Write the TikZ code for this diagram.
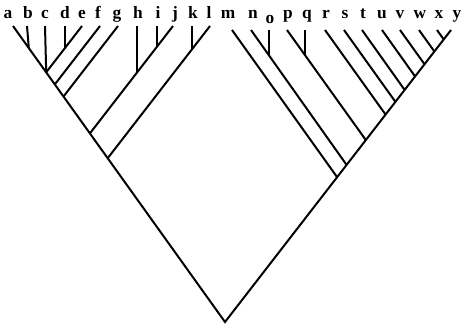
\documentclass[tikz,border=0pt]{standalone}
\usepackage{fontspec}
\setmainfont{Liberation Serif}
\usetikzlibrary{calc}

\begin{document}
\begin{tikzpicture}[x=0.75pt,y=-0.75pt,line width=1.5pt,line join=miter,
  leaf/.style={font=\fontsize{13}{15}\selectfont\bfseries,anchor=base,inner sep=0pt}]
\useasboundingbox (0,0) rectangle (464,330);
\foreach \n/\x in {a/8,b/28,c/45,d/65,e/82,f/98,g/117,h/138,i/158,j/175,k/193,l/209,
  m/228,n/253,p/288,q/307,r/326,s/345,t/363,u/382,v/400,w/420,x/439,y/457}
  \node[leaf] (\n) at (\x,18) {\n};
\node[leaf] (o) at (270,23) {o};
\foreach \n/\x in {a/13,b/27,c/45,d/65,e/82,f/100,g/118,h/137,i/157,j/173,k/192,l/210}
  \coordinate (t\n) at (\x,26);
\foreach \n/\x in {m/232,n/251,o/269,p/287,q/305,r/325,s/344,t/362,u/382,v/400,w/419,x/437,y/451}
  \coordinate (t\n) at (\x,30);
\coordinate (root) at (225,322);
\coordinate (jab) at (28.8,48);
\coordinate (jc) at (46.2,72.3);
\coordinate (jde) at (65,48);
\coordinate (jf) at (54.8,84.4);
\coordinate (jg) at (63.5,96.5);
\coordinate (jij) at (157,46.7);
\coordinate (jh) at (137,72.5);
\coordinate (jhij) at (89.9,133.4);
\coordinate (jkl) at (192,49.3);
\coordinate (jleft) at (107.7,158.2);
\coordinate (jm) at (337,177);
\coordinate (jn) at (346.6,164.9);
\coordinate (jno) at (269,55.1);
\coordinate (jp) at (365.8,140);
\coordinate (jpq) at (305,55.1);
\coordinate (jr) at (385.6,114.6);
\coordinate (js) at (395.4,101.8);
\coordinate (jt) at (404.5,89.7);
\coordinate (ju) at (415,76.3);
\coordinate (jv) at (424.5,64.2);
\coordinate (jw) at (434.4,51.5);
\coordinate (jx) at (443.7,39.4);
\draw (ta) -- (root) -- (ty);
\draw (tb) -- (jab);
\draw (tc) -- (jc);
\draw (td) -- (jde);
\draw (te) -- (jc);
\draw (tf) -- (jf);
\draw (tg) -- (jg);
\draw (th) -- (jh);
\draw (ti) -- (jij);
\draw (tj) -- (jhij);
\draw (tk) -- (jkl);
\draw (tl) -- (jleft);
\draw (tm) -- (jm);
\draw (tn) -- (jn);
\draw (to) -- (jno);
\draw (tp) -- (jp);
\draw (tq) -- (jpq);
\foreach \n in {r,s,t,u,v,w,x}
  \draw (t\n) -- (j\n);
\end{tikzpicture}
\end{document}
